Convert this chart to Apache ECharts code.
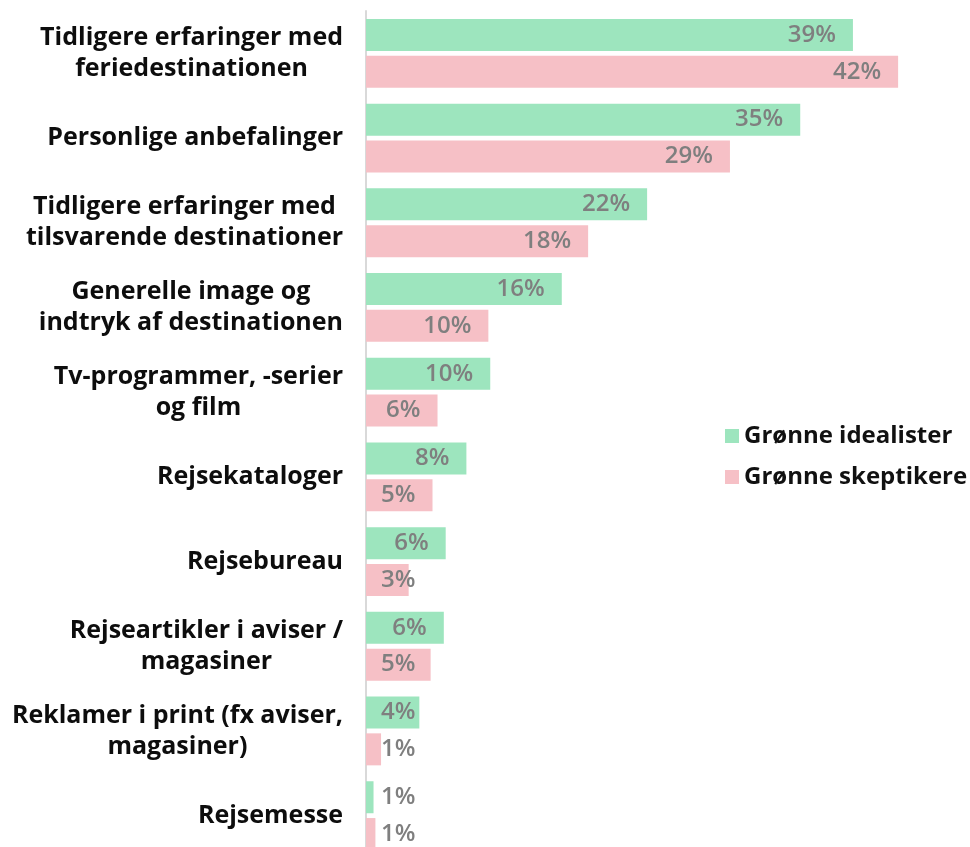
<!DOCTYPE html>
<html>
<head>
<meta charset="utf-8">
<script src="https://cdn.jsdelivr.net/npm/echarts@6/dist/echarts.min.js"></script>
<style>
html,body{margin:0;padding:0;background:#fff;}
#chart{width:970px;height:847px;}
</style>
</head>
<body>
<div id="chart"></div>
<script>
var categories = [
  'Tidligere erfaringer med\nferiedestinationen',
  'Personlige anbefalinger',
  'Tidligere erfaringer med\ntilsvarende destinationer',
  'Generelle image og\nindtryk af destinationen',
  'Tv-programmer, -serier\nog film',
  'Rejsekataloger',
  'Rejsebureau',
  'Rejseartikler i aviser /\nmagasiner',
  'Reklamer i print (fx aviser,\nmagasiner)',
  'Rejsemesse'
];
var seriesNames = ['Grønne idealister', 'Grønne skeptikere'];
var idealister = [38.8, 34.6, 22.4, 15.6, 9.9, 8.0, 6.35, 6.2, 4.25, 0.6];
var skeptikere = [42.4, 29.0, 17.7, 9.75, 5.7, 5.3, 3.4, 5.15, 1.2, 0.75];

var FONT = '"Open Sans", "Noto Sans", sans-serif';
var colors = ['#9DE5BE', '#F6C0C6'];
var xMax = 45;
var gridLeft = 366, gridWidth = 564.75;
var pxPer = gridWidth / xMax;

function labelData(arr) {
  return arr.map(function (v) {
    var txt = Math.round(v) + '%';
    var w = txt.length === 2 ? 37 : 50;
    var barPx = v * pxPer;
    if (barPx - 17 - w < 15) {
      return { value: v, label: { position: 'insideLeft', distance: 15 } };
    }
    return { value: v };
  });
}

var chart = echarts.init(document.getElementById('chart'), null, { renderer: 'canvas' });
var option = {
  animation: false,
  color: colors,
  grid: { left: gridLeft, width: gridWidth, top: 11, height: 847, outerBoundsMode: 'none', containLabel: false },
  legend: {
    orient: 'vertical',
    left: 720,
    top: 419,
    itemWidth: 14,
    itemHeight: 14,
    itemGap: 17,
    icon: 'rect',
    textStyle: { fontFamily: FONT, fontWeight: 'bold', fontSize: 24, color: '#111' },
    data: seriesNames
  },
  xAxis: {
    type: 'value', min: 0, max: xMax,
    show: false
  },
  yAxis: {
    type: 'category',
    inverse: true,
    data: categories,
    axisLine: { show: true, lineStyle: { color: '#D9D9D9', width: 2 } },
    axisTick: { show: false },
    splitLine: { show: false },
    axisLabel: {
      margin: 23,
      align: 'right',
      formatter: function (v) {
        return v.split('\n').map(function (l) { return '{c|' + l + '}'; }).join('\n');
      },
      rich: {
        c: { align: 'center', fontFamily: FONT, fontWeight: 'bold', fontSize: 25, color: '#0D0D0D', lineHeight: 31 }
      }
    }
  },
  series: [
    {
      name: seriesNames[0], type: 'bar', data: labelData(idealister),
      barWidth: 32, barGap: '15%',
      label: {
        show: true, position: 'insideRight', distance: 17,
        fontFamily: FONT, fontWeight: 600, fontSize: 24, color: '#7F7F7F',
        formatter: function (p) { return Math.round(p.value) + '%'; }
      }
    },
    {
      name: seriesNames[1], type: 'bar', data: labelData(skeptikere),
      barWidth: 32, barGap: '15%',
      label: {
        show: true, position: 'insideRight', distance: 17,
        fontFamily: FONT, fontWeight: 600, fontSize: 24, color: '#7F7F7F',
        formatter: function (p) { return Math.round(p.value) + '%'; }
      }
    }
  ]
};
chart.setOption(option);
</script>
</body>
</html>
